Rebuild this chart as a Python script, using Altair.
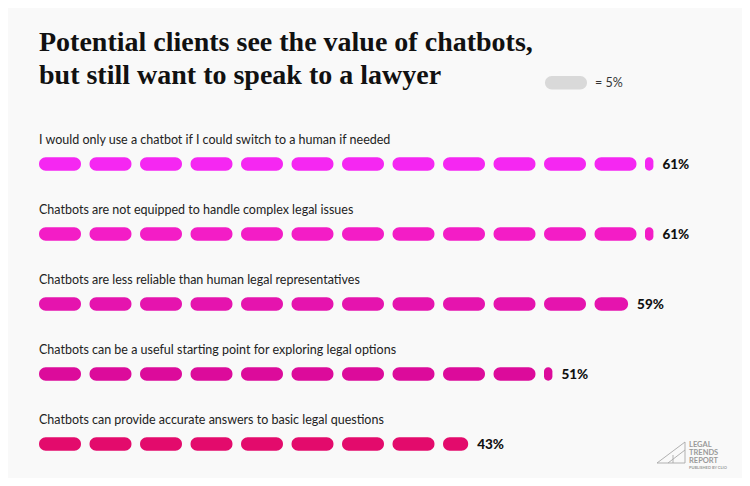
import math
import altair as alt
import pandas as pd

# ---------------- data ----------------
categories = [
    "I would only use a chatbot if I could switch to a human if needed",
    "Chatbots are not equipped to handle complex legal issues",
    "Chatbots are less reliable than human legal representatives",
    "Chatbots can be a useful starting point for exploring legal options",
    "Chatbots can provide accurate answers to basic legal questions",
]
values = [61, 61, 59, 51, 43]
row_colors = ["#F527F2", "#F31DC6", "#E514AE", "#DC0B9B", "#E30B6C"]
unit = 5  # one pill = 5%
title_lines = ["Potential clients see the value of chatbots,",
               "but still want to speak to a lawyer"]
legend_label = "= 5%"
logo_lines = ["LEGAL", "TRENDS", "REPORT"]
logo_sub = "PUBLISHED BY CLIO"

# ---------------- geometry helpers ----------------
W, H = 734, 470
PX_PER_PCT = 50.5 / unit
PILL_PX = 42.0
PILL_PCT = PILL_PX / PX_PER_PCT
X0 = 31  # pixel position of 0%

pills = []
for r, (cat, v, col) in enumerate(zip(categories, values, row_colors)):
    n = math.ceil(v / unit)
    for i in range(n):
        start = i * unit
        frac = min(unit, v - start) / unit
        pills.append({"row": r, "cat": cat, "start": start,
                      "end": start + frac * PILL_PCT, "color": col})
pill_df = pd.DataFrame(pills)

rows_df = pd.DataFrame({
    "row": list(range(len(categories))),
    "cat": categories,
    "value": values,
    "label": [f"{v}%" for v in values],
})
rows_df["label_x"] = [
    (math.ceil(v / unit) - 1) * unit + (min(unit, v - (math.ceil(v / unit) - 1) * unit) / unit) * PILL_PCT
    for v in values
]

xscale = alt.Scale(domain=[0, 100], range=[X0, X0 + 100 * PX_PER_PCT], padding=0)
yscale = alt.Scale(domain=[0, 4], range=[156, 436], padding=0)

base_rows = alt.layer(
    alt.Chart(pill_df).mark_bar(height=13.5, cornerRadius=6.75).encode(
        x=alt.X("start:Q", scale=xscale, axis=None),
        x2="end:Q",
        y=alt.Y("row:Q", scale=yscale, axis=None),
        color=alt.Color("color:N", scale=None, legend=None),
    ),
    alt.Chart(rows_df).mark_text(
        align="left", baseline="alphabetic", dy=-20, font="Lato", fontSize=12.5,
        color="#222222",
    ).encode(
        x=alt.value(X0),
        y=alt.Y("row:Q", scale=yscale, axis=None),
        text="cat:N",
    ),
    alt.Chart(rows_df).mark_text(
        align="left", baseline="middle", dx=9, dy=1, font="Lato", fontWeight=900,
        fontSize=13.5, color="#111111",
    ).encode(
        x=alt.X("label_x:Q", scale=xscale, axis=None),
        y=alt.Y("row:Q", scale=yscale, axis=None),
        text="label:N",
    ),
)

title_df = pd.DataFrame({"t": title_lines, "i": [0, 1]})
title_layer = alt.Chart(title_df).mark_text(
    align="left", baseline="alphabetic", font="Liberation Serif", fontWeight="bold",
    fontSize=28, color="#111111",
).encode(
    x=alt.value(X0),
    y=alt.Y("i:Q", scale=alt.Scale(domain=[0, 1], range=[43, 76]), axis=None),
    text="t:N",
)

legend_layer = alt.Chart(pd.DataFrame({"a": [0]})).mark_rect(
    cornerRadius=6.75, color="#D9D9D9"
).encode(x=alt.value(537), x2=alt.value(579), y=alt.value(68), y2=alt.value(81.5))

legend_text = alt.Chart(pd.DataFrame({"t": [legend_label]})).mark_text(
    align="left", baseline="middle", font="Lato", fontSize=12.5, color="#333333"
).encode(x=alt.value(587), y=alt.value(75), text="t:N")

logo_df = pd.DataFrame({"t": logo_lines, "i": [0, 1, 2]})
logo_text = alt.Chart(logo_df).mark_text(
    align="left", baseline="alphabetic", font="Lato", fontWeight="bold",
    fontSize=7.5, color="#9A9A9A",
).encode(
    x=alt.value(681),
    y=alt.Y("i:Q", scale=alt.Scale(domain=[0, 2], range=[439, 455]), axis=None),
    text="t:N",
)
logo_sub_text = alt.Chart(pd.DataFrame({"t": [logo_sub]})).mark_text(
    align="left", baseline="alphabetic", font="Lato", fontWeight="bold",
    fontSize=4, color="#9A9A9A",
).encode(x=alt.value(681), y=alt.value(461), text="t:N")

segs = [
    (649, 455, 677, 434),
    (677, 434, 677, 455),
    (660, 455, 677, 442),
    (665, 455, 665, 447),
    (649, 455, 677, 455),
]
logo_lines_layers = [
    alt.Chart(pd.DataFrame({"a": [0]})).mark_rule(color="#A8A8A8", strokeWidth=0.9).encode(
        x=alt.value(a), y=alt.value(b), x2=alt.value(c), y2=alt.value(d))
    for a, b, c, d in segs
]

chart = alt.layer(
    title_layer, legend_layer, legend_text, base_rows,
    logo_text, logo_sub_text, *logo_lines_layers,
).resolve_scale(y="independent", x="independent").properties(
    width=W, height=H, autosize=alt.AutoSizeParams(type="none"),
    padding=0, background="#F9F9F9",
).configure_view(stroke=None)

chart.save("out.html", embed_options={"renderer": "svg", "actions": False})
